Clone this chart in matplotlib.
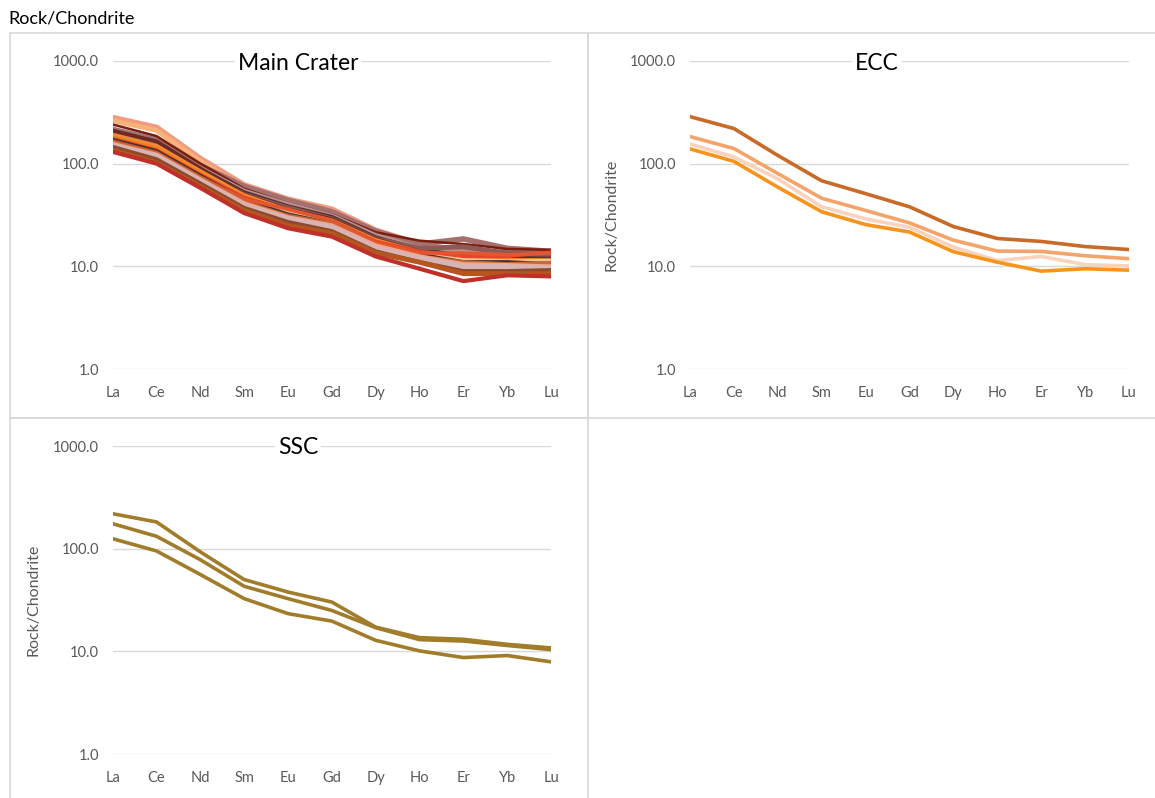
import matplotlib.pyplot as plt
from matplotlib.patches import Rectangle
from matplotlib.ticker import FixedLocator, FuncFormatter

plt.rcParams['font.family'] = ['Lato', 'DejaVu Sans']

elements = ['La', 'Ce', 'Nd', 'Sm', 'Eu', 'Gd', 'Dy', 'Ho', 'Er', 'Yb', 'Lu']

# Main Crater samples (chondrite normalised)
main_crater = [
    [280, 225, 112, 62, 45, 36, 22.5, 16.5, 14.0, 13.5, 13.5],
    [262, 210, 105, 58, 42, 33, 21.0, 15.5, 13.0, 12.5, 12.5],
    [215, 170, 96, 60, 44, 34, 22.0, 16.5, 18.5, 15.0, 14.0],
    [240, 185, 100, 57, 41, 32, 21.5, 17.8, 16.5, 14.8, 14.5],
    [200, 158, 90, 54, 40, 31, 20.0, 15.0, 14.0, 13.0, 12.5],
    [200, 160, 88, 52, 38, 30, 19.0, 14.5, 12.5, 12.5, 12.0],
    [190, 150, 85, 50, 37, 29, 18.5, 15.0, 15.5, 13.5, 13.0],
    [210, 165, 90, 50, 36, 29, 18.5, 14.0, 11.8, 11.8, 12.0],
    [190, 148, 84, 49, 35, 28, 18.0, 13.8, 11.5, 11.5, 11.5],
    [178, 140, 80, 46, 34, 27, 17.5, 13.5, 12.0, 11.5, 11.0],
    [175, 135, 78, 47, 35, 28, 17.5, 14.0, 12.5, 12.5, 13.8],
    [170, 130, 75, 44, 33, 26, 16.5, 13.0, 11.5, 11.2, 11.3],
    [170, 132, 76, 44, 32, 26, 16.5, 13.0, 11.0, 11.0, 10.5],
    [165, 128, 74, 45, 36, 28, 17.0, 13.5, 13.5, 13.0, 13.5],
    [160, 125, 72, 42, 31, 26, 16.0, 12.5, 11.0, 10.5, 10.8],
    [155, 122, 70, 41, 30, 25, 16.0, 12.5, 10.5, 10.3, 10.0],
    [150, 118, 68, 39, 29, 24, 15.0, 12.0, 10.0, 10.0, 9.5],
    [145, 110, 64, 37, 27, 22, 14.0, 11.0, 9.0, 9.0, 9.2],
    [135, 102, 60, 35, 25, 21, 13.5, 11.0, 8.5, 8.5, 8.5],
    [130, 100, 58, 33, 23.5, 19.5, 12.5, 9.5, 7.2, 8.2, 8.0],
]
main_colors = ['#F19A7E', '#F7B27A', '#A6706E', '#7A1E10', '#B89090',
               '#5A3030', '#8E5A55', '#6D2A25', '#F58A2E', '#F07F1F',
               '#E8452A', '#F3C29A', '#4E2F2B', '#E4572E', '#C26A3A',
               '#F2A68F', '#D8B4B4', '#8C4A2F', '#B4561E', '#C0302A']
main_widths = [4, 3.5, 4, 1.8, 3.5, 3.5, 3.5, 2.5, 3, 3,
               2.5, 3, 3, 2.5, 3, 3, 4, 3, 3.5, 3]

ecc = [
    [286, 219, 120, 68, 51, 38, 24.4, 18.7, 17.5, 15.6, 14.6],
    [183, 140, 80, 46, 35, 26.5, 18.0, 14.1, 14.0, 12.7, 11.9],
    [155, 116, 71, 38, 29, 24.0, 15.4, 11.4, 12.5, 10.4, 10.1],
    [139, 105, 59, 34, 25.5, 21.6, 13.9, 11.0, 9.0, 9.5, 9.2],
]
ecc_colors = ['#C86A28', '#F4A46A', '#FAD3BE', '#F7941D']

ssc = [
    [219, 182, 93, 50, 37.8, 30.2, 17.2, 13.6, 13.1, 11.7, 10.8],
    [175, 132, 78, 43, 32.6, 25.0, 17.0, 13.0, 12.6, 11.4, 10.4],
    [125, 95, 56, 32.6, 23.3, 19.7, 12.8, 10.1, 8.7, 9.1, 7.9],
]
ssc_color = '#A17D2B'

W, H = 1155, 798
fig = plt.figure(figsize=(W / 100, H / 100), dpi=100)


def px_axes(x0, x1, ytop, ybot):
    return fig.add_axes([x0 / W, 1 - ybot / H, (x1 - x0) / W, (ybot - ytop) / H])


ax1 = px_axes(112.7, 551, 60.7, 369.3)
ax2 = px_axes(690, 1129, 60.7, 369.3)
ax3 = px_axes(112.7, 551, 446, 754)

for vals, c, lw in zip(main_crater, main_colors, main_widths):
    ax1.plot(range(len(elements)), vals, color=c, lw=lw, solid_joinstyle='round')
for vals, c in zip(ecc, ecc_colors):
    ax2.plot(range(len(elements)), vals, color=c, lw=2.6)
for vals in ssc:
    ax3.plot(range(len(elements)), vals, color=ssc_color, lw=2.6)

for ax in (ax1, ax2, ax3):
    ax.set_yscale('log')
    ax.set_ylim(1, 1000)
    ax.set_xlim(0, len(elements) - 1)
    ax.yaxis.set_major_locator(FixedLocator([1, 10, 100, 1000]))
    ax.yaxis.set_minor_locator(FixedLocator([]))
    ax.yaxis.set_major_formatter(FuncFormatter(lambda v, p: f'{v:.1f}'))
    ax.set_xticks(range(len(elements)))
    ax.set_xticklabels(elements)
    ax.tick_params(length=0, colors='#595959', labelsize=10.5)
    ax.tick_params(axis='x', pad=12)
    ax.tick_params(axis='y', pad=10)
    ax.grid(axis='y', color='#D9D9D9', lw=1)
    ax.set_axisbelow(True)
    for s in ax.spines.values():
        s.set_visible(False)

# panel titles sit on the top gridline with a white box behind them
titles = [('Main Crater', 298, 63), ('ECC', 877, 63), ('SSC', 298, 448)]
for t, x, y in titles:
    fig.text(x / W, 1 - y / H, t, ha='center', va='center', fontsize=16.5,
             color='black', bbox=dict(facecolor='white', edgecolor='none', pad=2))

fig.text(8 / W, 1 - 19 / H, 'Rock/Chondrite', ha='left', va='center',
         fontsize=13, color='black')
fig.text(611 / W, 1 - 215 / H, 'Rock/Chondrite', rotation=90, ha='center',
         va='center', fontsize=11.5, color='#595959')
fig.text(33 / W, 1 - 600 / H, 'Rock/Chondrite', rotation=90, ha='center',
         va='center', fontsize=11.5, color='#595959')

# panel frames
for x0, y0, x1, y1 in [(10, 33, 588, 418), (588, 33, 1160, 418), (10, 418, 588, 803)]:
    fig.add_artist(Rectangle((x0 / W, 1 - y1 / H), (x1 - x0) / W, (y1 - y0) / H,
                             transform=fig.transFigure, fill=False,
                             edgecolor='#D9D9D9', lw=1.2))

fig.savefig('out.png', dpi=100, facecolor='white')
